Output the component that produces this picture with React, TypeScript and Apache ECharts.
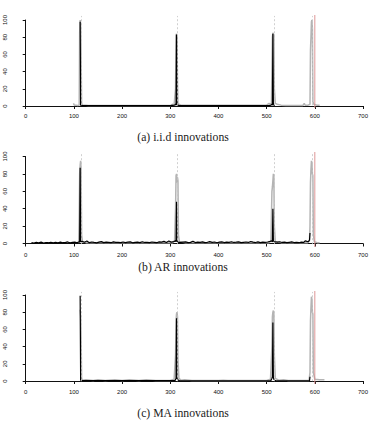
import React, { useEffect, useRef } from "react";
import * as echarts from "echarts";

// Horizontal axis range (time index) and the vertical count axis.
const xTicks = { min: 0, max: 700, step: 100 };
const yTicks = { min: 0, max: 100, step: 20 };

// Reference change points (dashed) and the end of the sample (red).
const changePoints = [115, 315, 515, 595];
const sampleEnd = 600;

// (a) i.i.d innovations
const iidBlack: [number, number][] = [
  [113, 98], [114, 1], [116, 0.5], [200, 0.5], [300, 0.5], [309, 1], [311, 2], [312, 1],
  [313, 83], [314, 2], [316, 1], [318, 0.5], [400, 0.5], [505, 0.5], [509, 1], [511, 2],
  [512, 1], [513, 84], [514, 3], [515, 1], [517, 0.5],
];
const iidGrey: [number, number][] = [
  [99, 3], [101, 1], [104, 1], [108, 0.5], [111, 1], [112, 85], [113, 100], [114, 96],
  [115, 60], [116, 3], [118, 1], [125, 1], [130, 0.5], [300, 0.5], [305, 2], [308, 1],
  [311, 20], [312, 82], [313, 84], [314, 80], [315, 30], [316, 3], [318, 2], [322, 1],
  [330, 1], [500, 1], [505, 3], [510, 2], [512, 80], [513, 85], [514, 84], [515, 83],
  [516, 20], [518, 3], [522, 2], [530, 1], [540, 0.5], [575, 0.5], [578, 3], [580, 1],
  [586, 1], [590, 2], [591, 65], [592, 80], [593, 98], [594, 100], [595, 90], [596, 5],
  [598, 2], [604, 1], [610, 1],
];

// (b) AR innovations: low-level counts sampled every 5 steps from t = 12
const arLowStart = 12;
const arLowStep = 5;
const arLow = [
  1.0, 0.5, 1.2, 0.8, 1.5, 0.6, 1.1, 0.9, 1.4, 0.7,
  1.3, 0.8, 1.6, 0.9, 1.0, 1.8, 0.7, 1.2, 1.5, 0.9,
  1.1, 2.5, 1.4, 2.8, 1.0, 1.7, 1.2, 0.8, 1.5, 2.2,
  1.0, 1.6, 1.3, 0.9, 1.8, 1.2, 1.4, 1.0, 1.7, 1.1,
  1.5, 1.9, 0.8, 1.3, 1.6, 1.0, 2.0, 1.2, 1.4, 1.1,
  1.7, 1.3, 0.9, 1.8, 1.5, 2.4, 1.2, 2.9, 1.6, 2.2,
  2.0, 1.4, 1.2, 1.5, 1.8, 1.0, 1.3, 2.6, 1.1, 1.6,
  1.2, 1.9, 1.0, 1.4, 2.1, 1.3, 1.7, 0.9, 1.5, 1.8,
  1.1, 1.6, 1.3, 2.0, 1.2, 1.5, 1.9, 1.0, 1.4, 1.7,
  1.2, 2.3, 1.5, 1.1, 1.8, 1.0, 1.6, 1.3, 1.7, 2.4,
  1.8, 1.3, 1.5, 2.0, 1.2, 1.6, 1.0, 1.4, 1.8, 1.1,
  1.3, 0.9, 1.5, 1.2, 2.8, 1.6,
];
const arPeaks: [number, number][] = [
  [111, 2], [112, 3], [113, 87], [114, 2], [311, 3], [312, 4], [313, 48], [314, 3],
  [315, 2], [511, 3], [512, 4], [513, 40], [514, 3], [515, 3], [518, 2], [580, 3],
  [586, 2], [589, 4], [590, 12],
];
const arGrey: [number, number][] = [
  [108, 1], [110, 2], [111, 30], [112, 80], [113, 90], [114, 95], [115, 85], [116, 10],
  [118, 2], [125, 1], [305, 1], [309, 3], [311, 40], [312, 78], [313, 80], [314, 70],
  [315, 76], [316, 72], [317, 10], [319, 2], [330, 1], [505, 1], [509, 3], [511, 60],
  [512, 65], [513, 72], [514, 80], [515, 78], [516, 20], [518, 2], [530, 1], [585, 1],
  [589, 3], [590, 20], [591, 70], [592, 85], [593, 95], [594, 93], [595, 80], [596, 78],
  [597, 10], [599, 2], [605, 1], [610, 1],
];

// (c) MA innovations
const maBlack: [number, number][] = [
  [113, 99], [114, 1], [116, 0.5], [310, 0.5], [311, 2], [312, 3], [313, 73], [314, 3],
  [315, 2], [317, 1], [319, 0.3], [509, 0.5], [510, 2], [511, 3], [512, 5], [513, 68],
  [514, 4], [515, 2], [517, 1], [519, 0.3], [589, 0.3], [590, 5],
];
const maGrey: [number, number][] = [
  [113, 83], [114, 75], [115, 50], [116, 3], [118, 1], [125, 1.5], [140, 0.5], [150, 1.5],
  [165, 0.5], [185, 1.5], [200, 0.5], [215, 1.5], [235, 0.5], [250, 1.5], [270, 0.5],
  [300, 0.5], [308, 2], [311, 30], [312, 70], [313, 78], [314, 80], [315, 75], [316, 25],
  [318, 3], [322, 1], [330, 1.5], [345, 0.5], [400, 0.5], [410, 1], [420, 0.5], [500, 0.5],
  [508, 2], [511, 40], [512, 75], [513, 80], [514, 82], [515, 78], [516, 30], [518, 3],
  [525, 1], [535, 1.5], [545, 0.5], [588, 0.5], [590, 10], [591, 70], [592, 85], [593, 98],
  [594, 95], [595, 80], [596, 78], [597, 10], [600, 2], [610, 1.5], [620, 1.5],
];

const captions = ["(a) i.i.d innovations", "(b) AR innovations", "(c) MA innovations"];

const arBlack: [number, number][] = arLow
  .map((v, i) => [arLowStart + i * arLowStep, v] as [number, number])
  .concat(arPeaks)
  .sort((a, b) => a[0] - b[0]);

const panels = [
  { black: iidBlack, grey: iidGrey },
  { black: arBlack, grey: arGrey },
  { black: maBlack, grey: maGrey },
];

// Panel layout in pixels; "frame" is the full plotting region used by the
// vertical reference lines (the count axis itself only spans 0..100).
const layout = [
  { top: 20, height: 86, xOffset: 2, caption: 137, frameTop: 15, frameHeight: 93 },
  { top: 156.5, height: 87, xOffset: 3, caption: 267, frameTop: 152, frameHeight: 95 },
  { top: 295, height: 86, xOffset: 3, caption: 413, frameTop: 291, frameHeight: 93 },
];

const sans = "Liberation Sans, Arial, sans-serif";
const serif = "Liberation Serif, Times New Roman, serif";

export default function App() {
  const ref = useRef<HTMLDivElement>(null);

  useEffect(() => {
    if (!ref.current) return;
    const chart = echarts.init(ref.current, null, { renderer: "svg" });

    const n = layout.length;
    const grid = [
      ...layout.map((l) => ({ left: 25.7, right: 10, top: l.top, height: l.height })),
      ...layout.map((l) => ({ left: 25.7, right: 10, top: l.frameTop, height: l.frameHeight })),
    ];

    const xAxis = [
      ...layout.map((l, i) => ({
        type: "value",
        gridIndex: i,
        min: xTicks.min,
        max: xTicks.max,
        interval: xTicks.step,
        offset: l.xOffset,
        axisLine: { show: true, lineStyle: { color: "#111", width: 1 } },
        axisTick: { show: true, length: 3, lineStyle: { color: "#111", width: 1 } },
        axisLabel: { fontSize: 6, color: "#111", margin: 5, fontFamily: sans },
        splitLine: { show: false },
      })),
      ...layout.map((_, i) => ({
        type: "value",
        gridIndex: n + i,
        min: xTicks.min,
        max: xTicks.max,
        show: false,
      })),
    ];

    const yAxis = [
      ...layout.map((_, i) => ({
        type: "value",
        gridIndex: i,
        min: yTicks.min,
        max: yTicks.max,
        interval: yTicks.step,
        offset: 13.7,
        axisLine: { show: true, lineStyle: { color: "#111", width: 1 } },
        axisTick: { show: true, length: 3, lineStyle: { color: "#111", width: 1 } },
        axisLabel: { fontSize: 6, color: "#111", margin: 4.5, rotate: 90, fontFamily: sans },
        splitLine: { show: false },
      })),
      ...layout.map((_, i) => ({
        type: "value",
        gridIndex: n + i,
        min: 0,
        max: 1,
        show: false,
      })),
    ];

    const series: any[] = [];
    panels.forEach((p, i) => {
      // Dashed change-point markers on the frame grid
      series.push({
        type: "line",
        xAxisIndex: n + i,
        yAxisIndex: n + i,
        data: [],
        symbol: "none",
        z: 2,
        markLine: {
          silent: true,
          symbol: "none",
          label: { show: false },
          lineStyle: { color: "#c4c4c4", type: [2, 2], width: 0.8 },
          data: changePoints.map((c) => [{ coord: [c, 0.03] }, { coord: [c, 0.99] }]),
        },
      });
      // Red end-of-sample marker spanning the frame
      series.push({
        type: "line",
        xAxisIndex: n + i,
        yAxisIndex: n + i,
        data: [[sampleEnd, 0], [sampleEnd, 1]],
        symbol: "none",
        silent: true,
        color: "#d98a8a",
        lineStyle: { color: "#d98a8a", width: 0.9 },
        z: 4,
      });
      series.push({
        type: "line",
        xAxisIndex: i,
        yAxisIndex: i,
        data: p.grey,
        symbol: "none",
        clip: false,
        lineStyle: { color: "#b4b4b4", width: 1.5 },
        z: 1,
      });
      series.push({
        type: "line",
        xAxisIndex: i,
        yAxisIndex: i,
        data: p.black,
        symbol: "none",
        clip: false,
        lineStyle: { color: "#000", width: 1.2 },
        z: 3,
      });
    });

    const graphic = layout.map((l, i) => ({
      type: "text",
      x: 183,
      y: l.caption,
      style: {
        text: captions[i],
        fontFamily: serif,
        fontSize: 11.7,
        fill: "#222",
        textAlign: "center",
        textVerticalAlign: "middle",
      },
    }));

    chart.setOption({
      animation: false,
      backgroundColor: "#fff",
      grid,
      xAxis,
      yAxis,
      series,
      graphic,
    });

    return () => chart.dispose();
  }, []);

  return (
    <div
      ref={ref}
      style={{ position: "absolute", left: 0, top: 0, width: 373, height: 421 }}
    />
  );
}
